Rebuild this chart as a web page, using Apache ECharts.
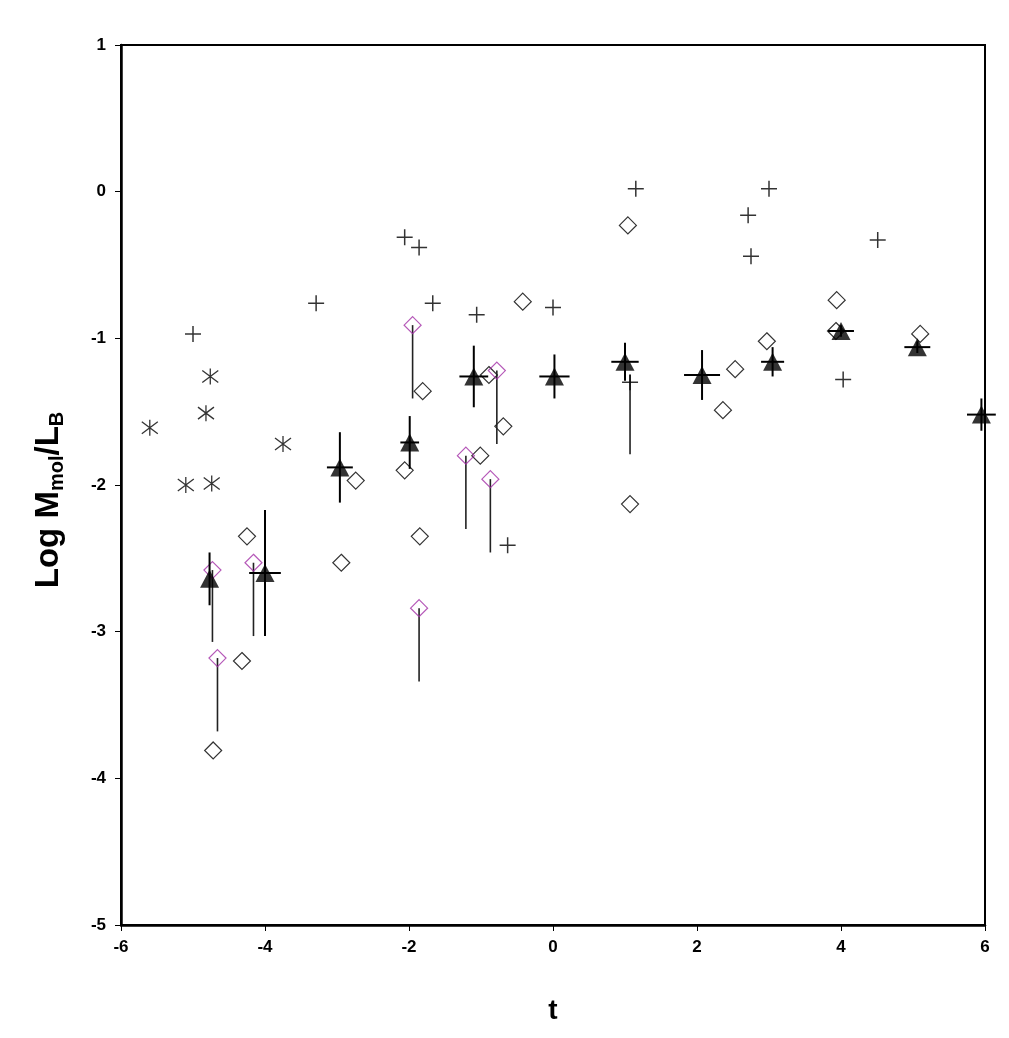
<!DOCTYPE html>
<html>
<head>
<meta charset="utf-8" />
<title>Log Mmol/LB vs t</title>
<script src="https://cdn.jsdelivr.net/npm/echarts@6/dist/echarts.min.js"></script>
<style>
  html, body { margin: 0; padding: 0; background: #fff; }
  #main { width: 1009px; height: 1038px; }
</style>
</head>
<body>
<div id="main"></div>
<script>
// ---- data ----
var xTicks = [-6, -4, -2, 0, 2, 4, 6];
var yTicks = [-5, -4, -3, -2, -1, 0, 1];

// crosses
var plusT   = [-5.0, -3.29, -2.06, -1.86, -1.67, -1.06, 0.0, 1.15, 3.0, 2.71, 2.75, 4.51, 4.03, -0.63, 1.07];
var plusLog = [-0.97, -0.76, -0.31, -0.38, -0.76, -0.84, -0.79, 0.02, 0.02, -0.16, -0.44, -0.33, -1.28, -2.41, -1.30];
// the one cross with a lower bar
var plusBarT = [1.07];
var plusBarTop = [-1.25];
var plusBarLow = [-1.79];

// asterisks
var starT   = [-5.6, -4.76, -4.82, -5.1, -4.74, -3.75];
var starLog = [-1.61, -1.26, -1.51, -2.0, -1.99, -1.72];

// open diamonds (black)
var diaT   = [-4.72, -4.32, -4.25, -2.94, -2.74, -2.06, -1.81, -1.85, -1.01, -0.89, -0.69, -0.42, 1.04, 1.07, 2.53, 2.36, 2.97, 3.94, 3.93, 5.10];
var diaLog = [-3.81, -3.20, -2.35, -2.53, -1.97, -1.90, -1.36, -2.35, -1.80, -1.25, -1.60, -0.75, -0.23, -2.13, -1.21, -1.49, -1.02, -0.74, -0.95, -0.97];

// open diamonds (magenta) with lower bars
var magT   = [-4.73, -4.66, -4.16, -1.95, -1.21, -0.87, -0.78, -1.86];
var magLog = [-2.58, -3.18, -2.53, -0.91, -1.80, -1.96, -1.22, -2.84];
var magLow = [-3.07, -3.68, -3.03, -1.41, -2.30, -2.46, -1.72, -3.34];

// filled triangles with x and y error bars
var triT      = [-4.77, -4.0, -2.96, -1.99, -1.10, 0.02, 1.0, 2.07, 3.05, 4.0, 5.06, 5.95];
var triLog    = [-2.64, -2.60, -1.88, -1.71, -1.26, -1.26, -1.16, -1.25, -1.16, -0.95, -1.06, -1.52];
var triErrT   = [0.0, 0.22, 0.18, 0.13, 0.20, 0.21, 0.19, 0.25, 0.16, 0.18, 0.18, 0.20];
var triErrLog = [0.18, 0.43, 0.24, 0.18, 0.21, 0.15, 0.13, 0.17, 0.10, 0.04, 0.04, 0.11];

var font = "'Liberation Sans', Arial, sans-serif";
var magenta = '#a22ea6';

function pairs(xs, ys) {
  return xs.map(function (x, i) { return [x, ys[i]]; });
}

// vertical bar from (t, top) to (t, low)
function vbarRender(params, api) {
  var p1 = api.coord([api.value(0), api.value(1)]);
  var p2 = api.coord([api.value(0), api.value(2)]);
  return {
    type: 'line',
    shape: { x1: p1[0], y1: p1[1], x2: p2[0], y2: p2[1] },
    style: { stroke: '#222', lineWidth: 1.6 }
  };
}

function triErrRender(params, api) {
  var t = api.value(0), v = api.value(1), et = api.value(2), ev = api.value(3);
  var a = api.coord([t, v + ev]), b = api.coord([t, v - ev]);
  var c = api.coord([t - et, v]), d = api.coord([t + et, v]);
  var st = { stroke: '#000', lineWidth: 2 };
  return {
    type: 'group',
    children: [
      { type: 'line', shape: { x1: a[0], y1: a[1], x2: b[0], y2: b[1] }, style: st },
      { type: 'line', shape: { x1: c[0], y1: c[1], x2: d[0], y2: d[1] }, style: st }
    ]
  };
}

var myChart = echarts.init(document.getElementById('main'));
var option = {
  backgroundColor: '#fff',
  animation: false,
  grid: {
    left: 121, right: 24, top: 45, bottom: 113,
    show: true, borderColor: '#000', borderWidth: 2, backgroundColor: 'transparent'
  },
  xAxis: {
    type: 'value', min: -6, max: 6, interval: 2,
    name: 't', nameLocation: 'middle', nameGap: 72,
    nameTextStyle: { fontFamily: font, fontSize: 28, fontWeight: 'bold', color: '#000' },
    axisLine: { show: true, onZero: false, lineStyle: { color: '#000', width: 2.5 } },
    axisTick: { show: true, inside: false, length: 6, lineStyle: { color: '#000', width: 1 } },
    axisLabel: {
      margin: 14, color: '#000', fontFamily: font, fontSize: 17, fontWeight: 'bold',
      formatter: function (v) { return xTicks.indexOf(v) >= 0 ? String(v) : ''; }
    },
    splitLine: { show: false }
  },
  yAxis: {
    type: 'value', min: -5, max: 1, interval: 1,
    name: '{b|Log M}{s|mol}{b|/L}{s|B}', nameLocation: 'middle', nameGap: 54,
    nameTextStyle: {
      color: '#000',
      padding: [0, 30, 0, 0],
      rich: {
        b: { fontFamily: font, fontSize: 33, fontWeight: 'bold', color: '#000', lineHeight: 36 },
        s: { fontFamily: font, fontSize: 20, fontWeight: 'bold', color: '#000', lineHeight: 17, verticalAlign: 'bottom' }
      }
    },
    axisLine: { show: true, onZero: false, lineStyle: { color: '#000', width: 2.5 } },
    axisTick: { show: true, inside: false, length: 6, lineStyle: { color: '#000', width: 1 } },
    axisLabel: {
      margin: 15, color: '#000', fontFamily: font, fontSize: 17, fontWeight: 'bold',
      formatter: function (v) { return yTicks.indexOf(v) >= 0 ? String(v) : ''; }
    },
    splitLine: { show: false }
  },
  series: [
    {
      name: 'diamonds', type: 'scatter', symbol: 'diamond', symbolSize: 17,
      itemStyle: { color: 'rgba(0,0,0,0)', borderColor: '#000', borderWidth: 1.2 },
      data: pairs(diaT, diaLog), z: 2
    },
    {
      name: 'magenta bars', type: 'custom', renderItem: vbarRender,
      data: magT.map(function (t, i) { return [t, magLog[i], magLow[i]]; }), z: 3
    },
    {
      name: 'magenta', type: 'scatter', symbol: 'diamond', symbolSize: 17,
      itemStyle: { color: 'rgba(0,0,0,0)', borderColor: magenta, borderWidth: 1.2 },
      data: pairs(magT, magLog), z: 3
    },
    {
      name: 'plus bar', type: 'custom', renderItem: vbarRender,
      data: plusBarT.map(function (t, i) { return [t, plusBarTop[i], plusBarLow[i]]; }), z: 3
    },
    {
      name: 'plus', type: 'scatter', symbol: 'path://M0,8 L16,8 M8,0 L8,16', symbolSize: 16,
      itemStyle: { color: 'rgba(0,0,0,0)', borderColor: '#000', borderWidth: 1.5 },
      data: pairs(plusT, plusLog), z: 4
    },
    {
      name: 'stars', type: 'scatter', symbol: 'path://M8,0 L8,16 M1.5,2 L14.5,14 M1.5,14 L14.5,2', symbolSize: 16,
      itemStyle: { color: 'rgba(0,0,0,0)', borderColor: '#000', borderWidth: 1.3 },
      data: pairs(starT, starLog), z: 4
    },
    {
      name: 'triangle bars', type: 'custom', renderItem: triErrRender,
      data: triT.map(function (t, i) { return [t, triLog[i], triErrT[i], triErrLog[i]]; }), z: 5
    },
    {
      name: 'triangles', type: 'scatter', symbol: 'triangle', symbolSize: [19, 18],
      itemStyle: { color: '#000' },
      data: pairs(triT, triLog), z: 6
    }
  ]
};
myChart.setOption(option);
</script>
</body>
</html>
